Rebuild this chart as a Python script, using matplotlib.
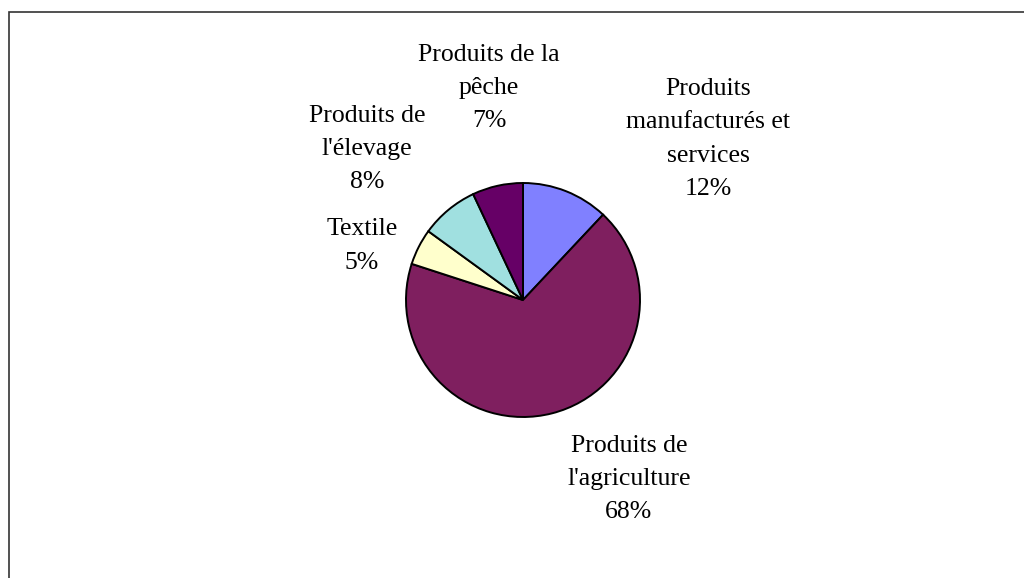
import matplotlib.pyplot as plt
from matplotlib.patches import Rectangle

labels = ["Produits\nmanufacturés et\nservices", "Produits de\nl'agriculture", "Textile",
          "Produits de\nl'élevage", "Produits de la\npêche"]
shares = [12, 68, 5, 8, 7]
colors = ["#8080FF", "#7F1F5F", "#FFFFCC", "#A0E0E0", "#660066"]
# label centres in pixels (x, y from top)
label_pos = [(708, 139), (629, 479), (362, 246), (367, 149), (489, 88)]

W, H = 1024, 578
fig = plt.figure(figsize=(W / 100, H / 100), dpi=100)
plt.rcParams['font.family'] = ['Liberation Serif', 'DejaVu Serif']

# chart area border (right/bottom run off the page)
fig.patches.append(Rectangle((8.5 / W, -0.1), 1.2, (H - 11.5) / H + 0.1,
                             transform=fig.transFigure, fill=False,
                             edgecolor="#333333", linewidth=1.2))

cx, cy, r = 523, 300, 117
ax = fig.add_axes([(cx - r) / W, (H - cy - r) / H, 2 * r / W, 2 * r / H])
ax.pie(shares, colors=colors, startangle=90, counterclock=False, radius=1,
       wedgeprops=dict(edgecolor="black", linewidth=1.4))
ax.set_xlim(-1, 1)
ax.set_ylim(-1, 1)
ax.set_aspect("equal")
ax.axis("off")

for lab, val, (x, y) in zip(labels, shares, label_pos):
    fig.text(x / W, 1 - y / H, f"{lab}\n{val}%", ha="center", va="center",
             fontsize=18.5, linespacing=1.67, color="black")

fig.savefig("out.png", dpi=100)
